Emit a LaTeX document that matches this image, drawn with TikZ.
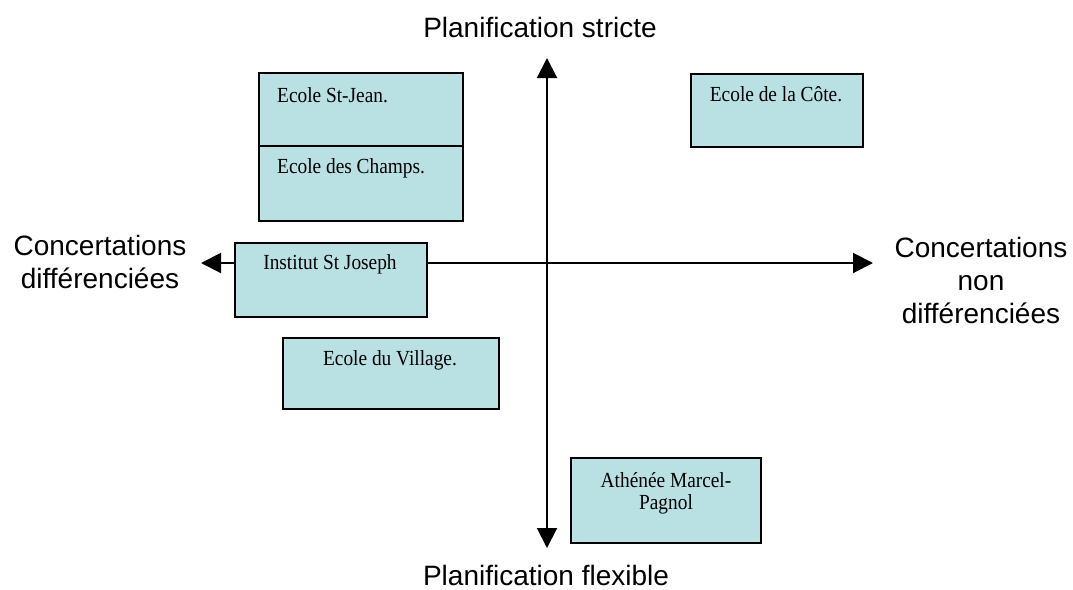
\documentclass[tikz,border=0pt]{standalone}
\usepackage{fontspec}
\setmainfont{Liberation Serif}
\newfontfamily\boxfont[FakeStretch=0.9]{Liberation Serif}
\newfontfamily\labelfont{Liberation Sans}
\usetikzlibrary{arrows.meta}
\definecolor{boxfill}{RGB}{185,224,227}
\tikzset{
  schoolbox/.style={draw=black, line width=2pt, fill=boxfill, inner sep=0pt, anchor=north west},
  boxtext/.style={font=\boxfont\fontsize{21.5}{22}\selectfont, inner sep=0pt},
  axislabel/.style={font=\labelfont\fontsize{28}{33}\selectfont, align=center, inner sep=0pt},
  axisline/.style={line width=2pt, {Triangle[length=20pt,width=20pt]}-{Triangle[length=20pt,width=20pt]}}
}
\begin{document}
\begin{tikzpicture}[x=1pt,y=-1pt]
\useasboundingbox (0,0) rectangle (1073,589);
% axes
\coordinate (top) at (547,58);
\coordinate (bottom) at (547,548);
\coordinate (left) at (201,263);
\coordinate (right) at (873,263);
\draw[axisline] (bottom) -- (top);
\draw[axisline] (left) -- (right);
% axis labels
\node[axislabel, anchor=base] (lstrict) at (540,37) {Planification stricte};
\node[axislabel, anchor=base, text depth=0pt] (lflex) at (546,585) {Planification flexible};
\node[axislabel] (ldiff) at (100,262) {Concertations\\différenciées};
\node[axislabel] (lnondiff) at (981,280) {Concertations\\non\\différenciées};
% boxes
\node[schoolbox, minimum width=204pt, minimum height=73pt] (bjean) at (258,72) {};
\node[schoolbox, minimum width=204pt, minimum height=75pt] (bchamps) at (258,145) {};
\node[schoolbox, minimum width=172pt, minimum height=73pt] (bcote) at (690,73) {};
\node[schoolbox, minimum width=192pt, minimum height=74pt] (binst) at (234,242) {};
\node[schoolbox, minimum width=216pt, minimum height=71pt] (bvill) at (282,337) {};
\node[schoolbox, minimum width=190pt, minimum height=85pt] (bathe) at (570,457) {};
% box texts
\node[boxtext, anchor=base west] (tjean) at (277,102) {Ecole St-Jean.};
\node[boxtext, anchor=base west] (tchamps) at (277,173) {Ecole des Champs.};
\node[boxtext, anchor=base] (tcote) at (776,101) {Ecole de la Côte.};
\node[boxtext, anchor=base] (tinst) at (330,269) {Institut St Joseph};
\node[boxtext, anchor=base] (tvill) at (390,365) {Ecole du Village.};
\node[boxtext, anchor=base] (tathe1) at (666,487) {Athénée Marcel-};
\node[boxtext, anchor=base] (tathe2) at (666,509) {Pagnol};
\end{tikzpicture}
\end{document}
